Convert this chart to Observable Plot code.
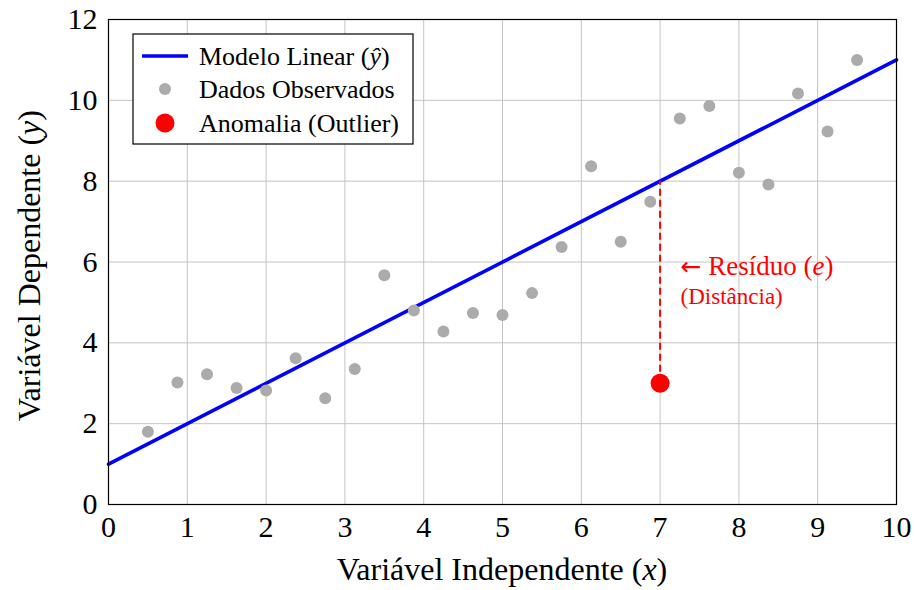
<!DOCTYPE html>
<html>
<head>
<meta charset="utf-8">
<script src="https://cdn.jsdelivr.net/npm/d3@7"></script>
<script src="https://cdn.jsdelivr.net/npm/@observablehq/plot@0.6"></script>
<style>
  html, body { margin: 0; padding: 0; background: #fff; }
  #chart { position: relative; width: 915px; height: 590px; }
  svg { font-family: "Liberation Serif", "Times New Roman", serif; }
</style>
</head>
<body>
<div id="chart"></div>
<script>
// ---- data ----
const obsX = [0.5, 0.875, 1.25, 1.625, 2.0, 2.375, 2.75, 3.125, 3.5, 3.875, 4.25, 4.625, 5.0,
              5.375, 5.75, 6.125, 6.5, 6.875, 7.25, 7.625, 8.0, 8.375, 8.75, 9.125, 9.5];
const obsY = [1.8, 3.02, 3.22, 2.88, 2.82, 3.62, 2.63, 3.35, 5.67, 4.8, 4.28, 4.74, 4.69,
              5.23, 6.37, 8.37, 6.5, 7.49, 9.55, 9.86, 8.21, 7.92, 10.17, 9.23, 11.0];
const modelX = [0, 10];
const modelY = [1, 11];
const outlierX = [7];
const outlierY = [3];
const residualTop = [8];
const xTicks = [0, 1, 2, 3, 4, 5, 6, 7, 8, 9, 10];
const yTicks = [0, 2, 4, 6, 8, 10, 12];
const annotX = [7.26, 7.26];
const annotY = [5.9, 5.14];
const annotText = ["Resíduo (e)", "(Distância)"];

const obs = obsX.map((x, i) => ({x, y: obsY[i]}));
const model = modelX.map((x, i) => ({x, y: modelY[i]}));
const outlier = outlierX.map((x, i) => ({x, y: outlierY[i], top: residualTop[i]}));
const annots = annotX.map((x, i) => ({x, y: annotY[i], t: annotText[i], size: i === 0 ? 27 : 23}));

const plot = Plot.plot({
  width: 915,
  height: 590,
  marginLeft: 108,
  marginRight: 19,
  marginTop: 19,
  marginBottom: 86,
  style: {fontFamily: '"Liberation Serif", "Times New Roman", serif', background: "#fff", color: "#000"},
  x: {domain: [0, 10]},
  y: {domain: [0, 12]},
  marks: [
    Plot.gridX(xTicks, {stroke: "#c4c4c4", strokeOpacity: 1, strokeWidth: 1}),
    Plot.gridY(yTicks, {stroke: "#c4c4c4", strokeOpacity: 1, strokeWidth: 1}),
    Plot.axisX(xTicks, {tickSize: 0, tickPadding: 11, fontSize: 30, label: null}),
    Plot.axisY(yTicks, {tickSize: 0, tickPadding: 11, fontSize: 30, label: null}),
    Plot.line(model, {x: "x", y: "y", stroke: "#0000ff", strokeWidth: 3.6}),
    Plot.dot(obs, {x: "x", y: "y", r: 6, fill: "#ababab", stroke: "none"}),
    Plot.ruleX(outlier, {x: "x", y1: "y", y2: "top", stroke: "#ff0000", strokeWidth: 2, strokeDasharray: "7,4"}),
    Plot.dot(outlier, {x: "x", y: "y", r: 9.5, fill: "#ff0000", stroke: "none"}),
    Plot.text(annots, {x: "x", y: "y", text: "t", fill: "#ff0000", textAnchor: "start", fontSize: d => d.size, className: "annot"}),
    Plot.frame({stroke: "#000", strokeWidth: 1.2})
  ]
});
document.getElementById("chart").appendChild(plot);

const svg = d3.select(plot);
// arrow + italic e in annotation
svg.selectAll("g.annot text").each(function() {
  const el = d3.select(this);
  const t = el.text();
  if (t.includes("(e)")) {
    el.text(null);
    el.append("tspan").attr("font-family", '"DejaVu Sans", sans-serif').attr("font-size", 25).text("←");
    el.append("tspan").text(" Resíduo (");
    el.append("tspan").attr("font-style", "italic").text("e");
    el.append("tspan").text(")");
  }
});

// axis labels
const xs = plot.scale("x"), ys = plot.scale("y");
const cx = (xs.range[0] + xs.range[1]) / 2;
const cy = (ys.range[0] + ys.range[1]) / 2 + 4;
const xl = svg.append("text").attr("x", cx).attr("y", 580).attr("text-anchor", "middle")
  .attr("font-size", 32).attr("fill", "#000");
xl.append("tspan").text("Variável Independente (");
xl.append("tspan").attr("font-style", "italic").text("x");
xl.append("tspan").text(")");
const yl = svg.append("text").attr("transform", `translate(40,${cy}) rotate(-90)`).attr("text-anchor", "middle")
  .attr("font-size", 32).attr("fill", "#000");
yl.append("tspan").text("Variável Dependente (");
yl.append("tspan").attr("font-style", "italic").text("y");
yl.append("tspan").text(")");

// legend
const lg = svg.append("g").attr("font-size", 26).attr("fill", "#000").attr("text-anchor", "start");
lg.append("rect").attr("x", 133).attr("y", 34).attr("width", 280).attr("height", 110)
  .attr("fill", "#fff").attr("stroke", "#000").attr("stroke-width", 1.2);
lg.append("line").attr("x1", 142).attr("x2", 188).attr("y1", 56).attr("y2", 56)
  .attr("stroke", "#0000ff").attr("stroke-width", 3.6);
lg.append("circle").attr("cx", 165).attr("cy", 89).attr("r", 6).attr("fill", "#ababab");
lg.append("circle").attr("cx", 165).attr("cy", 123).attr("r", 9.5).attr("fill", "#ff0000");
const t1 = lg.append("text").attr("x", 199).attr("y", 56).attr("dy", "0.35em");
t1.append("tspan").text("Modelo Linear (");
t1.append("tspan").attr("font-style", "italic").text("ŷ");
t1.append("tspan").text(")");
lg.append("text").attr("x", 199).attr("y", 89).attr("dy", "0.35em").text("Dados Observados");
lg.append("text").attr("x", 199).attr("y", 123).attr("dy", "0.35em").text("Anomalia (Outlier)");
</script>
</body>
</html>
